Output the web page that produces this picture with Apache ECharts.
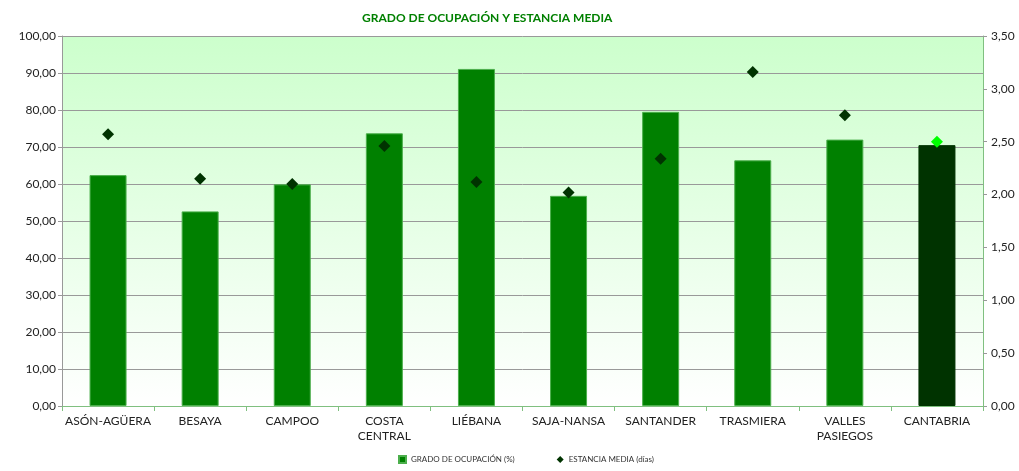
<!DOCTYPE html>
<html>
<head>
<meta charset="utf-8">
<script src="https://cdn.jsdelivr.net/npm/echarts@6/dist/echarts.min.js"></script>
<style>
  html, body { margin: 0; padding: 0; background: #fff; }
  #main { width: 1019px; height: 471px; }
</style>
</head>
<body>
<div id="main"></div>
<script>
const categories = ["ASÓN-AGÜERA", "BESAYA", "CAMPOO", "COSTA\nCENTRAL", "LIÉBANA",
  "SAJA-NANSA", "SANTANDER", "TRASMIERA", "VALLES\nPASIEGOS", "CANTABRIA"];
const ocupacion = [62.4, 52.6, 59.9, 73.7, 91.1, 56.8, 79.5, 66.4, 72.0, 70.5];
const estancia = [2.57, 2.15, 2.10, 2.46, 2.12, 2.02, 2.34, 3.16, 2.75, 2.50];

const fontFamily = "Lato, 'DejaVu Sans', sans-serif";
const fmt = (v) => v.toFixed(2).replace(".", ",");

const myChart = echarts.init(document.getElementById("main"));

const options = {
  animation: false,
  textStyle: { fontFamily: fontFamily },
  title: {
    text: "GRADO DE OCUPACIÓN Y ESTANCIA MEDIA",
    left: 357,
    top: 7,
    textStyle: { color: "#008000", fontSize: 12, fontWeight: "bold", fontFamily: fontFamily },
  },
  legend: {
    bottom: 2,
    left: 393,
    itemGap: 42,
    itemWidth: 7,
    itemHeight: 7,
    textStyle: { fontSize: 8, color: "#333" },
    data: [
      { name: "GRADO DE OCUPACIÓN (%)", icon: "rect" },
      { name: "ESTANCIA MEDIA (días)", icon: "diamond" },
    ],
  },
  grid: {
    left: 62,
    right: 36,
    top: 36,
    bottom: 65,
    show: true,
    borderWidth: 0,
    backgroundColor: new echarts.graphic.LinearGradient(0, 0, 0, 1, [
      { offset: 0, color: "#ccffcc" },
      { offset: 1, color: "#ffffff" },
    ]),
  },
  xAxis: {
    type: "category",
    data: categories,
    axisLine: { lineStyle: { color: "#80c080" } },
    axisTick: { show: true, alignWithLabel: false, length: 5, lineStyle: { color: "#80c080" } },
    axisLabel: { interval: 0, color: "#222", fontSize: 12, lineHeight: 15, margin: 8 },
  },
  yAxis: [
    {
      type: "value",
      min: 0,
      max: 100,
      interval: 10,
      position: "left",
      axisLine: { show: true, lineStyle: { color: "#999" } },
      axisTick: { show: true, length: 4, lineStyle: { color: "#999" } },
      axisLabel: { formatter: fmt, color: "#222", fontSize: 12, margin: 6 },
      splitLine: { lineStyle: { color: "#999" } },
    },
    {
      type: "value",
      min: 0,
      max: 3.5,
      interval: 0.5,
      position: "right",
      axisLine: { show: true, lineStyle: { color: "#80c080" } },
      axisTick: { show: true, length: 4, lineStyle: { color: "#999" } },
      axisLabel: { formatter: fmt, color: "#222", fontSize: 12, margin: 8 },
      splitLine: { show: false },
    },
  ],
  series: [
    {
      name: "GRADO DE OCUPACIÓN (%)",
      type: "bar",
      yAxisIndex: 0,
      barWidth: 37,
      itemStyle: { color: "#008000", borderColor: "#4caf4c", borderWidth: 1 },
      data: ocupacion.map((v, i) =>
        i === ocupacion.length - 1
          ? { value: v, itemStyle: { color: "#003300", borderColor: "#003300" } }
          : v
      ),
    },
    {
      name: "ESTANCIA MEDIA (días)",
      type: "scatter",
      yAxisIndex: 1,
      symbol: "diamond",
      symbolSize: 12,
      itemStyle: { color: "#003300", opacity: 1 },
      z: 5,
      data: estancia.map((v, i) =>
        i === estancia.length - 1 ? { value: v, itemStyle: { color: "#00ff00", opacity: 1 } } : v
      ),
    },
  ],
};

myChart.setOption(options);
</script>
</body>
</html>
